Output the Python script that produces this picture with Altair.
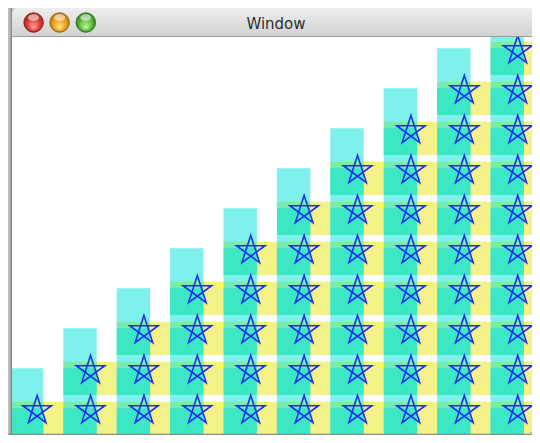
import altair as alt
import pandas as pd

# ---------------- data ----------------
column_ids = [0, 1, 2, 3, 4, 5, 6, 7, 8, 9]
stack_heights = [1, 2, 3, 4, 5, 6, 7, 8, 9, 10]   # stars per column
hidden_rows_below = 1                             # grid continues under the window edge
window_title = "Window"
button_names = ["close", "minimize", "zoom"]
button_light = ["#ffa89c", "#ffe58a", "#c8f5a0"]
button_base = ["#dc4138", "#eea21e", "#5cbb3a"]
button_dark = ["#a5231c", "#b7740c", "#2f8420"]
button_edge = ["#8e2a22", "#98681a", "#357a2a"]

cells = pd.DataFrame(
    [{"col": c, "row": r}
     for c, h in zip(column_ids, stack_heights)
     for r in range(-hidden_rows_below, h)]
)

# ---------------- layout ----------------
W, H = 524, 427
xs = alt.Scale(domain=[-0.0356, 9.777], nice=False, zero=False)
ys = alt.Scale(domain=[0.0, 10.675], nice=False, zero=False)

STAR = ("M0,-1 L0.5878,0.809 L-0.9511,-0.309 L0.9511,-0.309 "
        "L-0.5878,0.809 Z")

base = alt.Chart(cells)

yellow = base.transform_calculate(
    x2="datum.col + 1", y2="datum.row + 0.8333"
).mark_rect(clip=True, fill="#e6e614", fillOpacity=0.5).encode(
    x=alt.X("col:Q", scale=xs, axis=None),
    x2="x2:Q",
    y=alt.Y("row:Q", scale=ys, axis=None),
    y2="y2:Q",
)

cyan = base.transform_calculate(
    x2="datum.col + 0.625", y2="datum.row + 1.6667"
).mark_rect(clip=True, fill="#00e4da", fillOpacity=0.5).encode(
    x=alt.X("col:Q", scale=xs, axis=None),
    x2="x2:Q",
    y=alt.Y("row:Q", scale=ys, axis=None),
    y2="y2:Q",
)

stars = base.transform_calculate(
    sx="datum.col + 0.51", sy="datum.row + 0.615"
).mark_point(
    clip=True, shape=STAR, size=900, filled=False, stroke="#1d2ff0",
    strokeWidth=1.6, opacity=1
).encode(
    x=alt.X("sx:Q", scale=xs, axis=None),
    y=alt.Y("sy:Q", scale=ys, axis=None),
)

one = alt.Chart(pd.DataFrame({"k": [0]}))

shadow_left = one.mark_rect(
    fill={"gradient": "linear", "x1": 0, "x2": 1, "y1": 0, "y2": 0,
          "stops": [{"offset": 0, "color": "#c4c4c4"},
                    {"offset": 1, "color": "#a2a2a2"}]}
).encode(x=alt.value(0), x2=alt.value(3.5), y=alt.value(0), y2=alt.value(H))

border_left = one.mark_rule(color="#7c7c7c", strokeWidth=1).encode(
    x=alt.value(3.5), y=alt.value(0), y2=alt.value(H))

border_bottom = one.mark_rule(color="#8a8a8a", strokeWidth=1.5).encode(
    x=alt.value(0), x2=alt.value(W), y=alt.value(H - 0.5))

title_bar = one.mark_rect(
    cornerRadiusTopLeft=6, cornerRadiusTopRight=6,
    stroke="#8e8e8e", strokeWidth=1,
    fill={"gradient": "linear", "x1": 0, "x2": 0, "y1": 0, "y2": 1,
          "stops": [{"offset": 0, "color": "#eeeeee"},
                    {"offset": 1, "color": "#d2d2d2"}]}
).encode(x=alt.value(3.5), x2=alt.value(540), y=alt.value(-1), y2=alt.value(28.5))

title_line = one.mark_rule(color="#9c9c9c", strokeWidth=1).encode(
    x=alt.value(3.5), x2=alt.value(W), y=alt.value(28.5))

button_x = [25.6, 51.6, 77.8]
buttons = pd.DataFrame({"name": button_names, "cx": button_x})

button_layers = []
for i, n in enumerate(button_names):
    grad = {"gradient": "radial", "x1": 0.5, "y1": 0.78, "r1": 0,
            "x2": 0.5, "y2": 0.5, "r2": 0.5,
            "stops": [{"offset": 0, "color": button_light[i]},
                      {"offset": 0.65, "color": button_base[i]},
                      {"offset": 1, "color": button_dark[i]}]}
    sub = alt.Chart(buttons[buttons["name"] == n])
    button_layers.append(
        sub.mark_point(
            shape="circle", size=380, filled=True, fill=grad,
            stroke=button_edge[i], strokeWidth=1, opacity=1
        ).encode(x=alt.value(button_x[i]), y=alt.value(14.5))
    )
    button_layers.append(
        sub.mark_point(
            shape="M-1,0 A1,0.6 0 1,1 1,0 A1,0.6 0 1,1 -1,0 Z",
            size=120, filled=True, fill="white", opacity=0.55, strokeWidth=0
        ).encode(x=alt.value(button_x[i]), y=alt.value(9.5))
    )

title = one.mark_text(
    text=window_title, font="DejaVu Sans", fontSize=15, color="#2e2e2e",
    align="center", baseline="alphabetic"
).encode(x=alt.value(268), y=alt.value(20.5))

grip = one.mark_rule(color="#9a9a9a", strokeWidth=1).encode(
    x=alt.value(520.5), y=alt.value(427), x2=alt.value(532), y2=alt.value(417)
)

chart = alt.layer(
    yellow, cyan, stars, shadow_left, border_left, border_bottom, title_bar,
    title_line, *button_layers, title, grip
).properties(
    width=W, height=H, padding=0,
    autosize=alt.AutoSizeParams(type="none"),
    background="white",
).configure_view(stroke=None)

chart.save("out.html", embed_options={"renderer": "svg", "actions": False})
